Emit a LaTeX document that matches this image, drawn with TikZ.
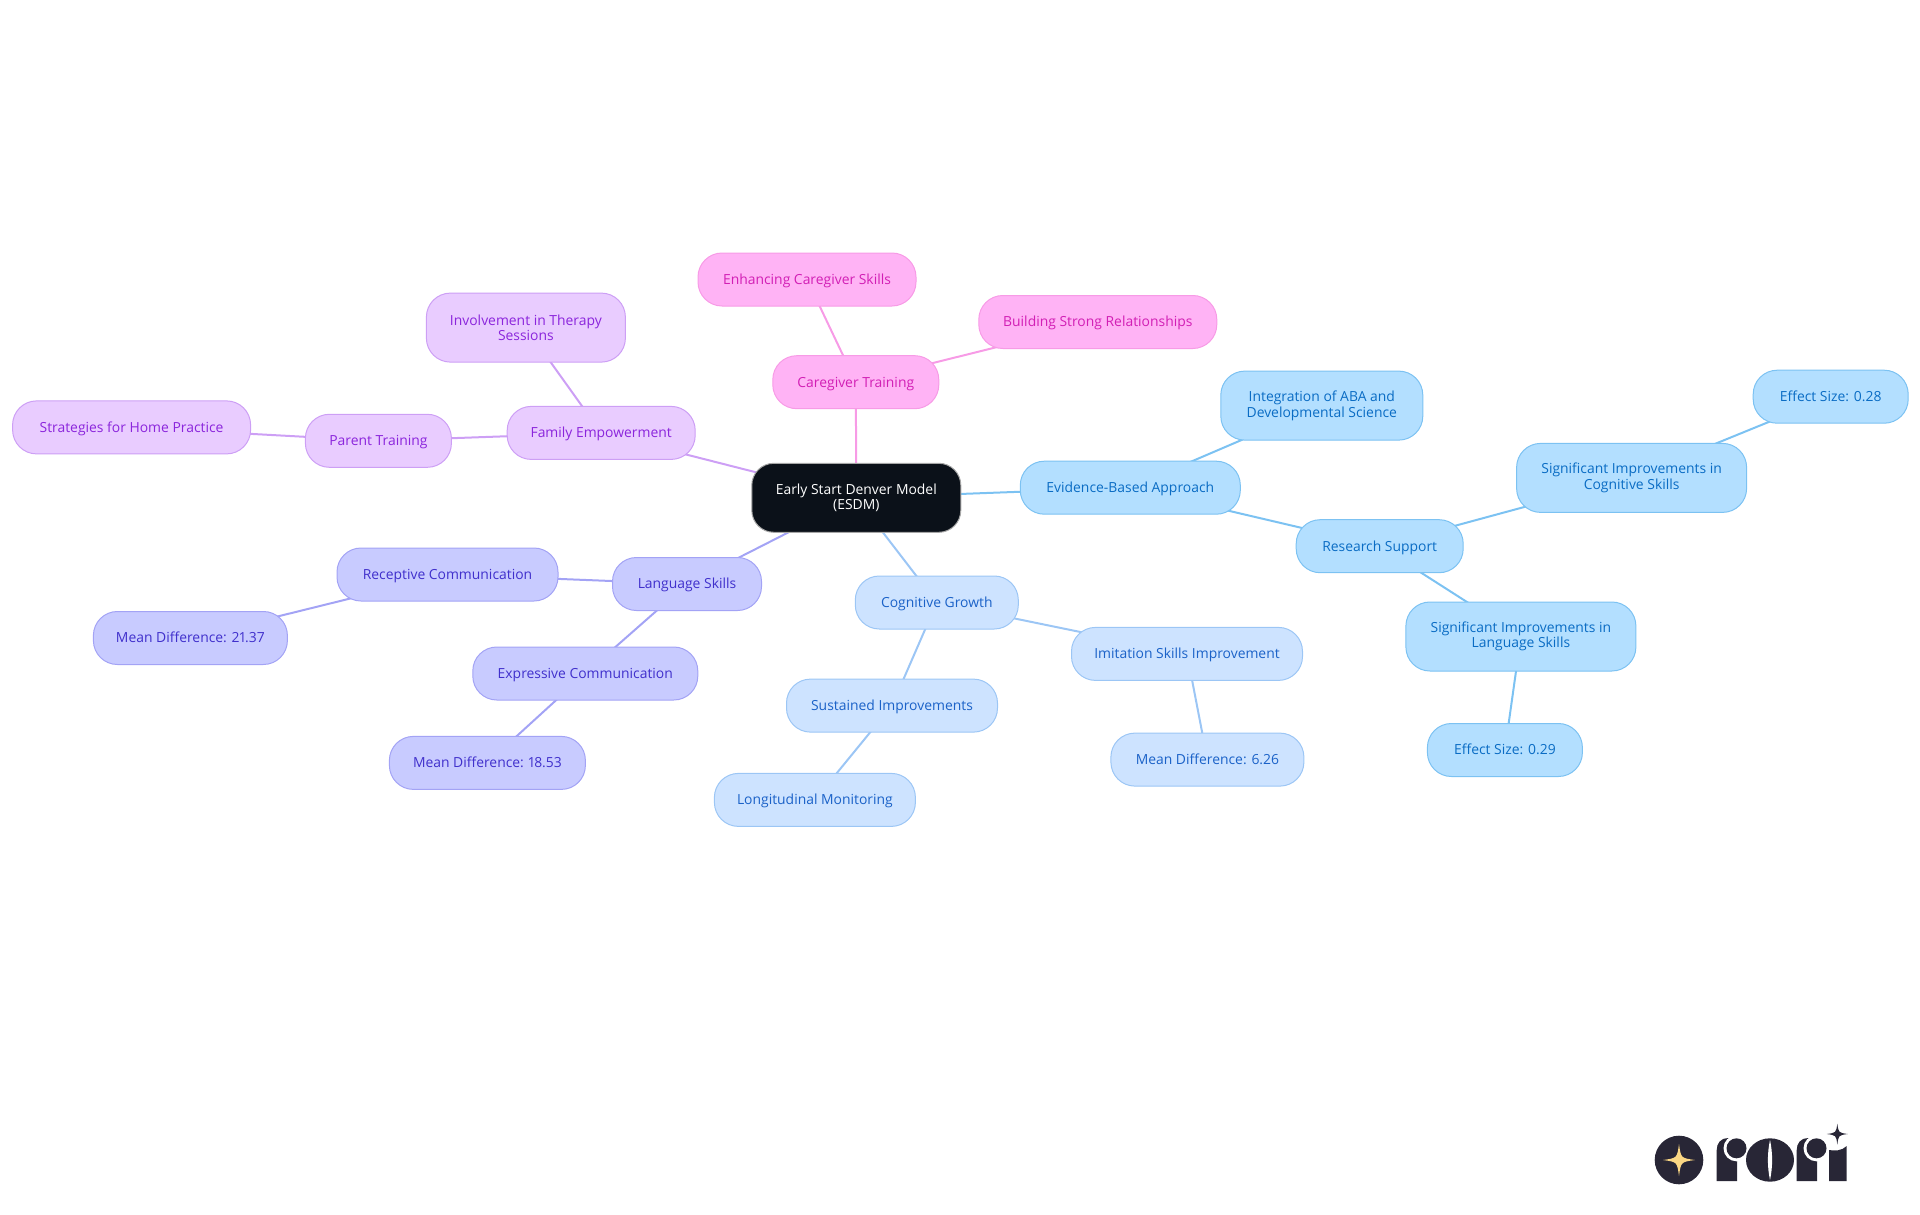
\documentclass[tikz,border=0pt]{standalone}
\usepackage{fontspec}
\setmainfont[Numbers=Proportional]{Open Sans}
\usetikzlibrary{backgrounds}
\definecolor{pinkfill}{HTML}{FFB3F5}
\definecolor{pinkline}{HTML}{F79BE6}
\definecolor{pinktext}{HTML}{D21FB5}
\definecolor{purplefill}{HTML}{E9CCFF}
\definecolor{purpleline}{HTML}{CD9FF5}
\definecolor{purpletext}{HTML}{8B25DC}
\definecolor{indigofill}{HTML}{C8CBFF}
\definecolor{indigoline}{HTML}{A3A3F5}
\definecolor{indigotext}{HTML}{4030CC}
\definecolor{palefill}{HTML}{CDE3FF}
\definecolor{paleline}{HTML}{9CC6F5}
\definecolor{paletext}{HTML}{1B62C8}
\definecolor{skyfill}{HTML}{B3DFFF}
\definecolor{skyline}{HTML}{7CC2F2}
\definecolor{skytext}{HTML}{0A6CC4}
\definecolor{rootfill}{HTML}{0B1119}
\definecolor{logodark}{HTML}{282636}
\definecolor{logostar}{HTML}{FBD784}
\tikzset{
  box/.style={rectangle,rounded corners=24pt,line width=1pt,inner sep=0pt,
    minimum height=53pt,align=center,text height=11.2pt,text depth=1.6pt,
    font=\fontsize{13.9}{15.6}\selectfont},
  twoline/.style={minimum height=69pt,text height=,text depth=},
  rootbox/.style={box,twoline,fill=rootfill,draw=gray!70,text=white,rounded corners=22pt},
  pinkbox/.style={box,fill=pinkfill,draw=pinkline,text=pinktext},
  purplebox/.style={box,fill=purplefill,draw=purpleline,text=purpletext},
  indigobox/.style={box,fill=indigofill,draw=indigoline,text=indigotext},
  palebox/.style={box,fill=palefill,draw=paleline,text=paletext},
  skybox/.style={box,fill=skyfill,draw=skyline,text=skytext},
  link/.style={line width=2pt}
}
\begin{document}
\begin{tikzpicture}[x=1pt,y=-1pt]
  \useasboundingbox (0,0) rectangle (1920,1215);

  % root
  \node[rootbox,minimum width=209pt] (esdm) at (856.3,497.8) {Early Start Denver Model\\(ESDM)};

  % caregiver branch
  \node[pinkbox,minimum width=166pt] (caregiver) at (855.8,382.2) {Caregiver Training};
  \node[pinkbox,minimum width=218pt] (enhancing) at (807,279.5) {Enhancing Caregiver Skills};
  \node[pinkbox,minimum width=238pt] (building) at (1097.8,322) {Building Strong Relationships};

  % family branch
  \node[purplebox,minimum width=188pt] (family) at (601.2,432.9) {Family Empowerment};
  \node[purplebox,twoline,minimum width=199pt] (involvement) at (525.9,327.6) {Involvement in Therapy\\Sessions};
  \node[purplebox,minimum width=146pt] (parent) at (378.4,440.8) {Parent Training};
  \node[purplebox,minimum width=238pt] (strategies) at (131.6,427.4) {Strategies for Home Practice};

  % language branch
  \node[indigobox,minimum width=149pt] (language) at (687,584) {Language Skills};
  \node[indigobox,minimum width=221pt] (receptive) at (447.5,574.5) {Receptive Communication};
  \node[indigobox,minimum width=194pt] (meanA) at (190.4,638) {Mean Difference: 21.37};
  \node[indigobox,minimum width=225pt] (expressive) at (585.3,673.5) {Expressive Communication};
  \node[indigobox,minimum width=196pt] (meanB) at (487.4,762.9) {Mean Difference: 18.53};

  % cognitive branch
  \node[palebox,minimum width=163pt] (cognitive) at (936.8,602.5) {Cognitive Growth};
  \node[palebox,minimum width=231pt] (imitation) at (1187,653.9) {Imitation Skills Improvement};
  \node[palebox,minimum width=193pt] (meanC) at (1207.4,759.6) {Mean Difference: 6.26};
  \node[palebox,minimum width=211pt] (sustained) at (892,705.6) {Sustained Improvements};
  \node[palebox,minimum width=201pt] (longitudinal) at (814.9,799.9) {Longitudinal Monitoring};

  % evidence branch
  \node[skybox,minimum width=220pt] (evidence) at (1130.3,487.7) {Evidence-Based Approach};
  \node[skybox,twoline,minimum width=202pt] (integration) at (1321.8,405.6) {Integration of ABA and\\Developmental Science};
  \node[skybox,minimum width=167pt] (research) at (1379.7,546.2) {Research Support};
  \node[skybox,twoline,minimum width=230pt] (sigcog) at (1631.6,477.9) {Significant Improvements in\\Cognitive Skills};
  \node[skybox,minimum width=155pt] (effectA) at (1830.7,396.7) {Effect Size: 0.28};
  \node[skybox,twoline,minimum width=230pt] (siglang) at (1520.9,636.5) {Significant Improvements in\\Language Skills};
  \node[skybox,minimum width=155pt] (effectB) at (1504.9,750) {Effect Size: 0.29};

  % connectors
  \begin{scope}[on background layer]
    \draw[link,pinkline] (esdm.center) -- (caregiver.center);
    \draw[link,pinkline] (caregiver.center) -- (enhancing.center);
    \draw[link,pinkline] (caregiver.center) -- (building.center);
    \draw[link,purpleline] (esdm.center) -- (family.center);
    \draw[link,purpleline] (family.center) -- (involvement.center);
    \draw[link,purpleline] (family.center) -- (parent.center);
    \draw[link,purpleline] (parent.center) -- (strategies.center);
    \draw[link,indigoline] (esdm.center) -- (language.center);
    \draw[link,indigoline] (language.center) -- (receptive.center);
    \draw[link,indigoline] (receptive.center) -- (meanA.center);
    \draw[link,indigoline] (language.center) -- (expressive.center);
    \draw[link,indigoline] (expressive.center) -- (meanB.center);
    \draw[link,paleline] (esdm.center) -- (cognitive.center);
    \draw[link,paleline] (cognitive.center) -- (imitation.center);
    \draw[link,paleline] (imitation.center) -- (meanC.center);
    \draw[link,paleline] (cognitive.center) -- (sustained.center);
    \draw[link,paleline] (sustained.center) -- (longitudinal.center);
    \draw[link,skyline] (esdm.center) -- (evidence.center);
    \draw[link,skyline] (evidence.center) -- (integration.center);
    \draw[link,skyline] (evidence.center) -- (research.center);
    \draw[link,skyline] (research.center) -- (sigcog.center);
    \draw[link,skyline] (sigcog.center) -- (effectA.center);
    \draw[link,skyline] (research.center) -- (siglang.center);
    \draw[link,skyline] (siglang.center) -- (effectB.center);
  \end{scope}

  % logo
  \fill[logodark] (1679,1160) circle (24.3);
  \foreach \cx/\cy/\arm/\col in {1679/1160/16/logostar,1837.3/1134/10.5/logodark}
    \fill[\col] (\cx,\cy-\arm) .. controls (\cx+0.12*\arm,\cy-0.12*\arm) .. (\cx+\arm,\cy)
      .. controls (\cx+0.12*\arm,\cy+0.12*\arm) .. (\cx,\cy+\arm)
      .. controls (\cx-0.12*\arm,\cy+0.12*\arm) .. (\cx-\arm,\cy)
      .. controls (\cx-0.12*\arm,\cy-0.12*\arm) .. cycle;
  \foreach \dx in {0,80} {
    \fill[logodark] (1716.7+\dx,1181) -- (1716.7+\dx,1150) .. controls (1716.7+\dx,1143) and (1721+\dx,1138) .. (1728+\dx,1138)
      -- (1737+\dx,1138) -- (1737+\dx,1181) -- cycle;
    \fill[white] (1736.5+\dx,1148.3) circle (13);
    \fill[white] (1737+\dx,1138) rectangle (1750+\dx,1150);
    \fill[logodark] (1736.5+\dx,1148.3) circle (10);
  }
  \fill[logodark] (1770,1160) ellipse (24 and 21.7);
  \fill[white] (1770,1140) .. controls (1767.2,1153) and (1767.2,1167) .. (1770,1180)
    .. controls (1772.8,1167) and (1772.8,1153) .. cycle;
  \fill[logodark] (1829,1181) -- (1829,1150) .. controls (1834,1151) and (1842,1151) .. (1846.7,1146) -- (1846.7,1181) -- cycle;
\end{tikzpicture}
\end{document}
